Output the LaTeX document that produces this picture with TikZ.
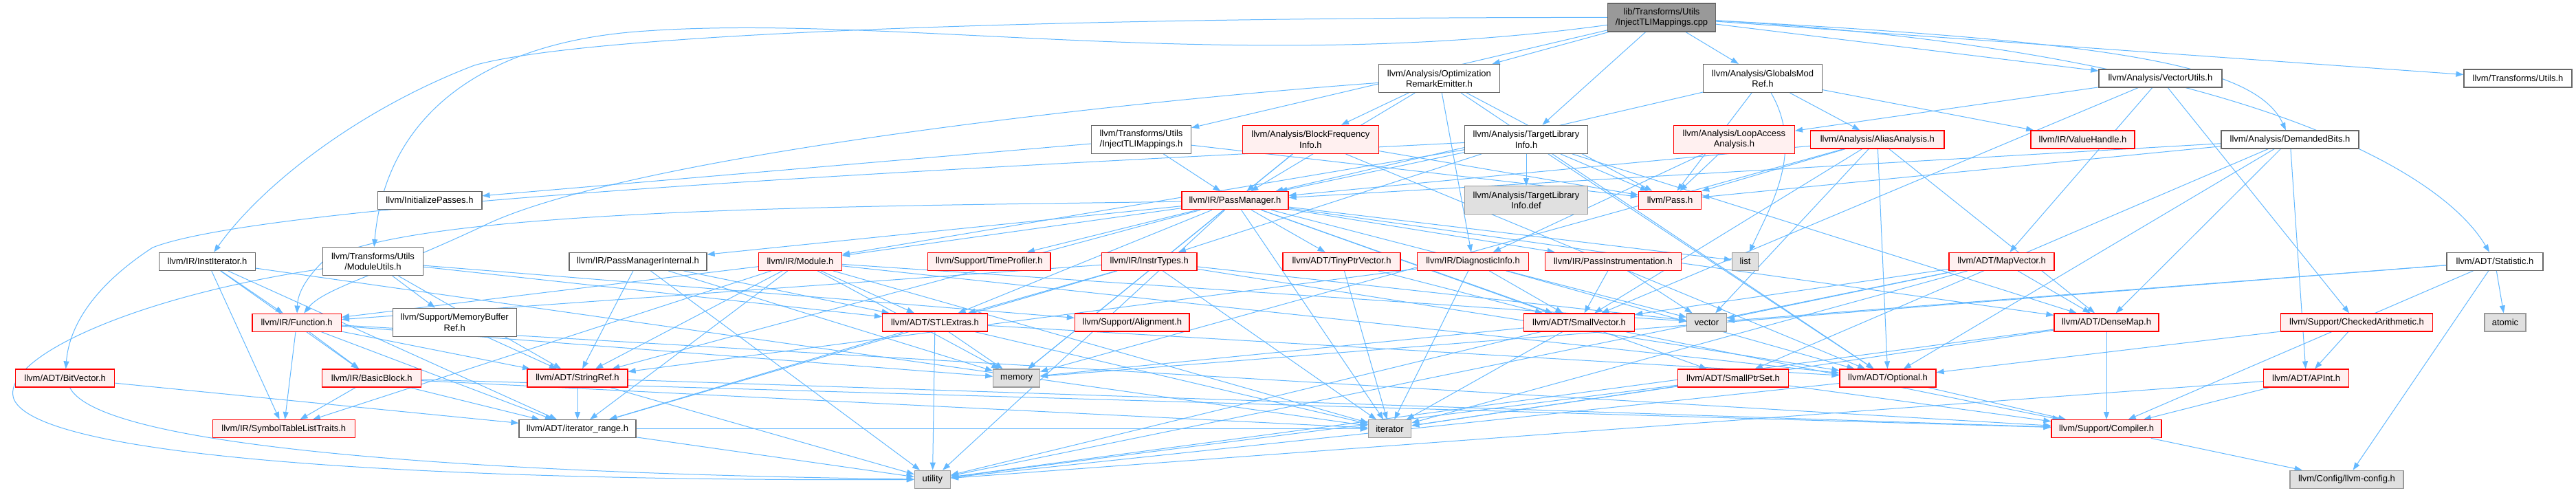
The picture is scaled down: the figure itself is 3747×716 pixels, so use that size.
\documentclass[tikz,border=0pt]{standalone}
\usepackage{fontspec}
\setmainfont{Liberation Sans}
\usetikzlibrary{arrows.meta}
\definecolor{edgec}{HTML}{63B8FF}
\definecolor{redb}{HTML}{FF0000}
\definecolor{redf}{HTML}{FFF0F0}
\definecolor{grayb}{HTML}{999999}
\definecolor{grayf}{HTML}{E0E0E0}
\definecolor{whiteb}{HTML}{666666}
\definecolor{rootf}{HTML}{999999}
\pgfdeclarelayer{bg}
\pgfsetlayers{bg,main}
\begin{document}
\begin{tikzpicture}[x=1pt,y=-1pt,
 box/.style={rectangle, inner sep=0pt, align=center, font=\fontsize{13}{15.3}\selectfont, line width=1.3pt},
 rn/.style={box, draw=redb, fill=redf},
 wn/.style={box, draw=whiteb, fill=white},
 gn/.style={box, draw=grayb, fill=grayf},
 rootn/.style={box, draw=whiteb, fill=rootf},
 one/.style={minimum height=26pt},
 two/.style={minimum height=41pt},
 dep/.style={draw=edgec, line width=1pt, -{Triangle[length=11pt,width=8pt]}},
]
\useasboundingbox (0,0) rectangle (3747,716);
% row 0
\node[rootn,two,minimum width=157pt] (root) at (2417,25.5) {lib/Transforms/Utils\\/InjectTLIMappings.cpp};
% row 1
\node[wn,two,minimum width=176pt] (ore) at (2093.4,114) {llvm/Analysis/Optimization\\RemarkEmitter.h};
\node[wn,two,minimum width=173pt] (gmr) at (2564,114) {llvm/Analysis/GlobalsMod\\Ref.h};
\node[wn,one,minimum width=179pt] (vu) at (3142.4,114) {llvm/Analysis/VectorUtils.h};
\node[wn,one,minimum width=157pt] (tu) at (3662.5,114) {llvm/Transforms/Utils.h};
% row 2
\node[wn,two,minimum width=145pt] (itlih) at (1660,202.8) {llvm/Transforms/Utils\\/InjectTLIMappings.h};
\node[rn,two,minimum width=198pt] (bfi) at (1906.4,202.8) {llvm/Analysis/BlockFrequency\\Info.h};
\node[wn,two,minimum width=178.6pt] (tli) at (2220,202.8) {llvm/Analysis/TargetLibrary\\Info.h};
\node[rn,two,minimum width=176pt] (laa) at (2522.4,202.8) {llvm/Analysis/LoopAccess\\Analysis.h};
\node[rn,one,minimum width=194.5pt] (aa) at (2730.8,203) {llvm/Analysis/AliasAnalysis.h};
\node[rn,one,minimum width=151pt] (vh) at (3029.5,203) {llvm/IR/ValueHandle.h};
\node[wn,one,minimum width=200pt] (db) at (3331,203) {llvm/Analysis/DemandedBits.h};
% row 3
\node[wn,one,minimum width=151.7pt] (ip) at (625,291.3) {llvm/InitializePasses.h};
\node[rn,one,minimum width=155pt] (pm) at (1796.4,291.8) {llvm/IR/PassManager.h};
\node[gn,two,minimum width=178.6pt] (tlidef) at (2220,291.3) {llvm/Analysis/TargetLibrary\\Info.def};
\node[rn,one,minimum width=91pt] (pass) at (2429,291.3) {llvm/Pass.h};
% row 4
\node[wn,one,minimum width=140pt] (ii) at (301.5,380.3) {llvm/IR/InstIterator.h};
\node[wn,two,minimum width=146pt] (mu) at (542.5,380.2) {llvm/Transforms/Utils\\/ModuleUtils.h};
\node[wn,one,minimum width=200pt] (pmi) at (928,380.3) {llvm/IR/PassManagerInternal.h};
\node[rn,one,minimum width=120.5pt] (mod) at (1164,380.3) {llvm/IR/Module.h};
\node[rn,one,minimum width=178.6pt] (tp) at (1438.8,380.3) {llvm/Support/TimeProfiler.h};
\node[rn,one,minimum width=138.5pt] (it) at (1671.7,380.3) {llvm/IR/InstrTypes.h};
\node[rn,one,minimum width=171pt] (tpv) at (1951.5,380.3) {llvm/ADT/TinyPtrVector.h};
\node[rn,one,minimum width=162pt] (di) at (2142.5,380.3) {llvm/IR/DiagnosticInfo.h};
\node[rn,one,minimum width=198pt] (pi) at (2346.4,380.3) {llvm/IR/PassInstrumentation.h};
\node[gn,one,minimum width=37.8pt] (list) at (2538.5,380.3) {list};
\node[rn,one,minimum width=153pt] (mv) at (2911.6,380.3) {llvm/ADT/MapVector.h};
\node[wn,one,minimum width=140pt] (stat) at (3629,380.3) {llvm/ADT/Statistic.h};
% row 5
\node[rn,one,minimum width=129.5pt] (fn) at (431.6,469.2) {llvm/IR/Function.h};
\node[wn,two,minimum width=180pt] (mbr) at (661.2,468.7) {llvm/Support/MemoryBuffer\\Ref.h};
\node[rn,one,minimum width=153pt] (stl) at (1360,469) {llvm/ADT/STLExtras.h};
\node[rn,one,minimum width=166.6pt] (align) at (1646.8,469) {llvm/Support/Alignment.h};
\node[rn,one,minimum width=161pt] (sv) at (2297,469) {llvm/ADT/SmallVector.h};
\node[gn,one,minimum width=57.6pt] (vector) at (2482.5,469) {vector};
\node[rn,one,minimum width=152pt] (dm) at (3064,469) {llvm/ADT/DenseMap.h};
\node[rn,one,minimum width=220.6pt] (ca) at (3428,469) {llvm/Support/CheckedArithmetic.h};
\node[gn,one,minimum width=60pt] (atomic) at (3644,469) {atomic};
% row 6
\node[rn,one,minimum width=144pt] (bv) at (94.7,550) {llvm/ADT/BitVector.h};
\node[rn,one,minimum width=144pt] (bb) at (540.8,550) {llvm/IR/BasicBlock.h};
\node[rn,one,minimum width=146pt] (sr) at (840,550) {llvm/ADT/StringRef.h};
\node[gn,one,minimum width=67.7pt] (memory) at (1478.6,550) {memory};
\node[rn,one,minimum width=161pt] (spt) at (2521,550) {llvm/ADT/SmallPtrSet.h};
\node[rn,one,minimum width=140pt] (opt) at (2746,550) {llvm/ADT/Optional.h};
\node[rn,one,minimum width=124pt] (apint) at (3354.6,550) {llvm/ADT/APInt.h};
% row 7
\node[rn,one,minimum width=207pt] (stlt) at (412.8,623.7) {llvm/IR/SymbolTableListTraits.h};
\node[wn,one,minimum width=170pt] (ir) at (840,623.7) {llvm/ADT/iterator\_range.h};
\node[gn,one,minimum width=62.3pt] (iter) at (2021.5,623.7) {iterator};
\node[rn,one,minimum width=160pt] (comp) at (3064,623.7) {llvm/Support/Compiler.h};
% row 8
\node[gn,one,minimum width=52pt] (util) at (1356.4,697.3) {utility};
\node[gn,one,minimum width=165pt] (cfg) at (3413.4,697.3) {llvm/Config/llvm-config.h};

\begin{pgfonlayer}{bg}
\foreach \a/\b in {root/itlih, root/ore, root/tli, root/gmr, root/vu, root/tu,
 itlih/pm, itlih/ip, itlih/pass,
 ore/bfi, ore/di, ore/pm, ore/pass, ore/opt,
 gmr/aa, gmr/pm, gmr/vh, gmr/pass,
 tli/dm, tli/opt, tli/it, tli/mod, tli/pm, tli/pass, tli/tlidef,
 bfi/pm, bfi/pass, bfi/opt, bfi/memory,
 laa/di, laa/pass,
 aa/dm, aa/opt, aa/sv, aa/pm, aa/pass, aa/memory, aa/vector,
 vu/mv, vu/sv, vu/laa, vu/ca,
 db/apint, db/dm, db/opt, db/spt, db/pm, db/pass,
 stat/cfg, stat/comp, stat/atomic, stat/memory, stat/vector,
 ii/ir, ii/bb, ii/fn, ii/stlt, ii/iter,
 mu/stl, mu/sr, mu/align, mu/mbr,
 mbr/sr,
 pm/dm, pm/stl, pm/spt, pm/sv, pm/sr, pm/tpv, pm/mod, pm/pi, pm/pmi, pm/tp, pm/iter, pm/list, pm/memory, pm/util, pm/vector,
 mod/opt, mod/stl, mod/sr, mod/ir, mod/fn, mod/stlt, mod/iter, mod/memory, mod/vector,
 fn/sr, fn/ir, fn/bb, fn/stlt, fn/comp, fn/memory,
 bb/ir, bb/stlt, bb/comp, bb/iter,
 sr/ir, sr/comp, sr/util,
 ir/util, ir/iter,
 bv/ir,
 stl/ir, stl/iter, stl/memory, stl/util, stl/opt,
 opt/comp, opt/util,
 spt/comp, spt/iter, spt/util,
 sv/comp, sv/iter, sv/memory, sv/util,
 dm/comp, dm/iter, dm/util,
 mv/dm, mv/sv, mv/vector, mv/iter, mv/util,
 apint/comp, apint/util,
 ca/apint, ca/opt,
 comp/cfg,
 di/opt, di/sv, di/sr, di/iter,
 pi/sv, pi/vector,
 tpv/sv, tpv/iter,
 it/opt, it/stl, it/ir, it/fn, it/iter, it/vector,
 pmi/stl, pmi/sr, pmi/memory, pmi/util}
 {\draw[dep] (\a) -- (\b);}
\draw[dep] (root) .. controls (1500,25) and (850,50) .. (690,95) .. controls (520,160) and (380,270) .. (ii);
\draw[dep] (root) .. controls (1800,110) and (1300,20) .. (940,45) .. controls (700,60) and (560,170) .. (mu);
\draw[dep] (root) .. controls (3050,60) and (3280,90) .. (db);
\draw[dep] (root) .. controls (3200,70) and (3540,230) .. (stat);
\draw[dep] (gmr) .. controls (2625,220) and (2575,300) .. (list);
\draw[dep] (ore) .. controls (1600,150) and (900,230) .. (700,330) .. controls (550,400) and (470,420) .. (fn);
\draw[dep] (pm) .. controls (1300,300) and (600,300) .. (470,380) .. controls (440,410) and (433,430) .. (fn);
\draw[dep] (tli) .. controls (1500,240) and (400,290) .. (222,360) .. controls (130,420) and (100,480) .. (bv);
\draw[dep] (mu) .. controls (200,430) and (0,520) .. (20,580) .. controls (60,680) and (800,700) .. (util);
\draw[dep] (bv) .. controls (150,660) and (800,690) .. (util);
\end{pgfonlayer}
\end{tikzpicture}
\end{document}
